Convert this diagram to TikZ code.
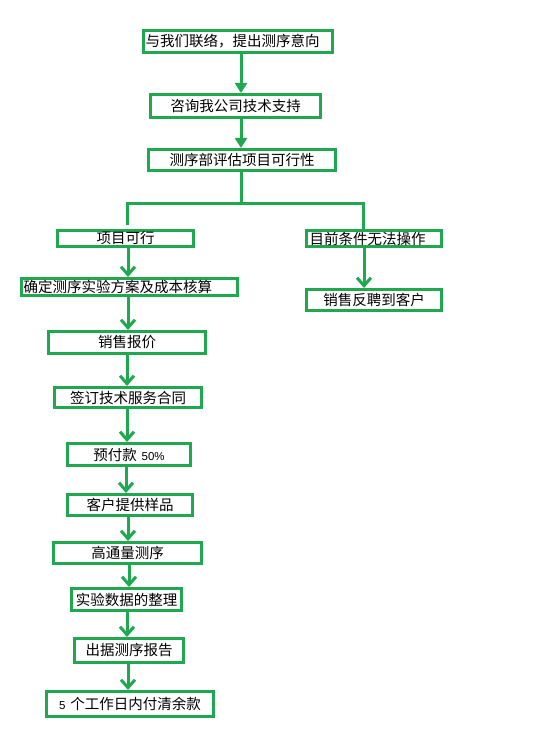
\documentclass[tikz,border=0pt]{standalone}
\usepackage{fontspec}
\newfontfamily\cjk{Noto Sans CJK SC}
\newfontfamily\latn{Liberation Sans}
\usetikzlibrary{arrows.meta}
\definecolor{grn}{RGB}{32,168,80}
\tikzset{
  box/.style={draw=grn, line width=3pt, inner ysep=0pt, inner xsep=2pt,
    font=\cjk\fontsize{14.5}{16}\selectfont, text=black},
  lbox/.style={box, align=left},
  cbox/.style={box, align=center},
  link/.style={draw=grn, line width=3pt},
  arrF/.style={link, -{Triangle[width=12pt,length=10pt]}},
  arrV/.style={link, -{Straight Barb[width=14pt,length=8pt]}},
}
\begin{document}
\begin{tikzpicture}[x=1pt,y=-1pt]
\useasboundingbox (0,0) rectangle (536,746);
\fill[white] (0,0) rectangle (536,746);
% boxes
\node[lbox, minimum width=189pt, minimum height=22pt, text width=185pt] (b1) at (238,41.5) {与我们联络，提出测序意向};
\node[cbox, minimum width=170pt, minimum height=23pt, text width=164pt] (b2) at (235.5,106) {咨询我公司技术支持};
\node[cbox, minimum width=187pt, minimum height=21pt, text width=181pt] (b3) at (242,160) {测序部评估项目可行性};
\node[cbox, minimum width=136pt, minimum height=16pt, text width=130pt] (b4) at (125.5,238.5) {项目可行};
\node[lbox, minimum width=135pt, minimum height=16pt, text width=129pt] (b5) at (374,238.5) {目前条件无法操作};
\node[cbox, minimum width=135pt, minimum height=21pt, text width=129pt] (b6) at (374,300) {销售反聘到客户};
\node[lbox, minimum width=216pt, minimum height=17pt, text width=212pt] (b7) at (129.5,287) {确定测序实验方案及成本核算};
\node[cbox, minimum width=157pt, minimum height=22pt, text width=151pt] (b8) at (127,342.5) {销售报价};
\node[cbox, minimum width=147pt, minimum height=20pt, text width=141pt] (b9) at (128,397.5) {签订技术服务合同};
\node[cbox, minimum width=123pt, minimum height=22pt, text width=117pt] (b10) at (129,454.5) {预付款 {\latn\fontsize{11.5}{13}\selectfont 50\%}};
\node[cbox, minimum width=125pt, minimum height=21pt, text width=119pt] (b11) at (130,505) {客户提供样品};
\node[cbox, minimum width=148pt, minimum height=21pt, text width=142pt] (b12) at (127.5,553) {高通量测序};
\node[cbox, minimum width=110pt, minimum height=22pt, text width=104pt] (b13) at (126.5,599.5) {实验数据的整理};
\node[cbox, minimum width=109pt, minimum height=24pt, text width=103pt] (b14) at (129,650.5) {出据测序报告};
\node[cbox, minimum width=167pt, minimum height=25pt, text width=161pt] (b15) at (130,704) {{\latn\fontsize{11.5}{13}\selectfont 5} 个工作日内付清余款};
% connectors
\draw[arrF] ([xshift=3pt]b1.south) -- ([xshift=5.5pt]b2.north);
\draw[arrF] ([xshift=5.5pt]b2.south) -- ([xshift=-1pt]b3.north);
\coordinate (jc) at (241,203);
\coordinate (jl) at (127,203);
\coordinate (jr) at (363,203);
\coordinate (el) at (127,223);
\coordinate (er) at (363,227);
\draw[link] ([xshift=-1pt]b3.south) -- (jc);
\draw[link, line cap=rect] (el) -- (jl) -- (jr) -- (er);
\draw[arrV] ([xshift=2.5pt]b4.south) -- ([xshift=-1.5pt]b7.north);
\draw[arrV] ([xshift=-10pt]b5.south) -- ([xshift=-10pt]b6.north);
\draw[arrV] ([xshift=-1.5pt]b7.south) -- ([xshift=1pt]b8.north);
\draw[arrV] ([xshift=0pt]b8.south) -- ([xshift=-1pt]b9.north);
\draw[arrV] ([xshift=-1pt]b9.south) -- ([xshift=-2pt]b10.north);
\draw[arrV] ([xshift=-3pt]b10.south) -- ([xshift=-4pt]b11.north);
\draw[arrV] ([xshift=-2pt]b11.south) -- ([xshift=0.5pt]b12.north);
\draw[arrV] ([xshift=1.5pt]b12.south) -- ([xshift=2.5pt]b13.north);
\draw[arrV] ([xshift=0.5pt]b13.south) -- ([xshift=-2pt]b14.north);
\draw[arrV] ([xshift=-1pt]b14.south) -- ([xshift=-2pt]b15.north);
\end{tikzpicture}
\end{document}
